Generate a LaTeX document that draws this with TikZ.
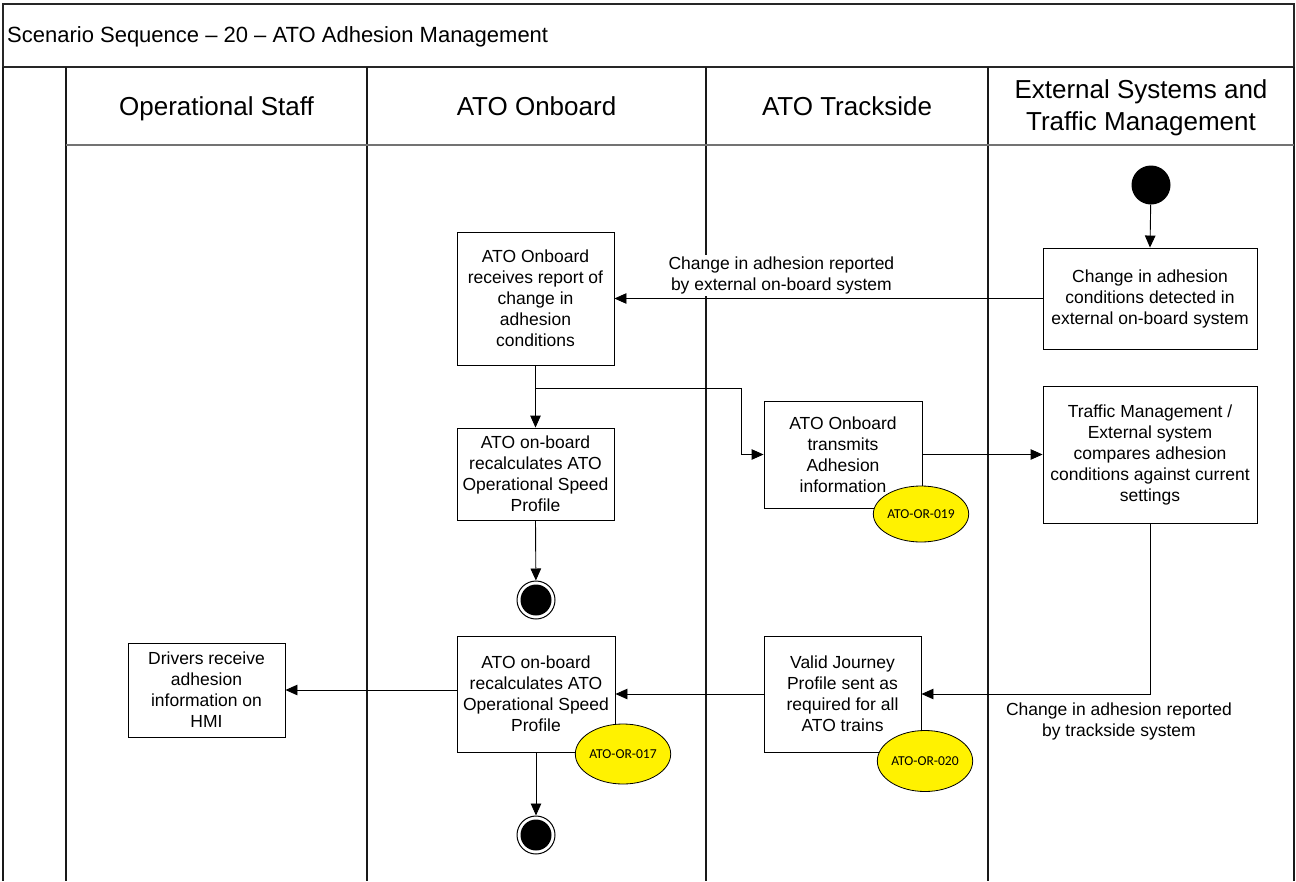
\documentclass[tikz,border=0pt]{standalone}
\usepackage{fontspec}
\setmainfont{Liberation Sans}
\newfontfamily\reqfont{Carlito}
\usetikzlibrary{arrows.meta,shapes.geometric}
\begin{document}
\begin{tikzpicture}[x=1pt,y=-1pt,
  lane/.style={line width=1.9pt, black!90},
  frame/.style={line width=1.3pt, black!85},
  headline/.style={line width=1.1pt, black!55},
  stepbox/.style={draw, line width=0.9pt, fill=white, align=center, inner sep=2pt,
    font=\fontsize{17.5}{21}\selectfont},
  flow/.style={line width=0.9pt, -{Triangle[length=12pt,width=10.5pt]}},
  req/.style={ellipse, draw, line width=0.8pt, fill=yellow, inner sep=0pt,
    font=\reqfont\fontsize{13.6}{15}\selectfont},
  lbl/.style={align=center, fill=white, inner sep=2pt, font=\fontsize{17.5}{21}\selectfont},
  head/.style={align=center, inner sep=0pt, font=\fontsize{26}{32}\selectfont},
  startdot/.style={circle, fill=black, minimum size=39pt, inner sep=0pt},
  enddot/.style={circle, draw, line width=1pt, fill=white, minimum size=38pt, inner sep=0pt,
    path picture={\fill[black] (path picture bounding box.center) circle (15.5pt);}},
]
\useasboundingbox (0,0) rectangle (1296,881);

% title bar and swimlane frame
\draw[frame] (3,4) rectangle (1294,67);
\node[anchor=base west, inner sep=0pt, font=\fontsize{22}{26}\selectfont] (title) at (7,42)
  {Scenario Sequence – 20 – ATO Adhesion Management};
\draw[lane] (3,67) -- (3,881);
\draw[lane] (66,67) -- (66,881);
\draw[lane] (367,67) -- (367,881);
\draw[lane] (706,67) -- (706,881);
\draw[lane] (988,67) -- (988,881);
\draw[lane] (1294,67) -- (1294,881);
\draw[headline] (66,145) -- (1294,145);

% lane headings
\node[head, anchor=base] (hstaff) at (216.5,115) {Operational Staff};
\node[head, anchor=base] (honboard) at (536.5,115) {ATO Onboard};
\node[head, anchor=base] (htrack) at (847,115) {ATO Trackside};
\node[head] (hext) at (1141,107.3) {External Systems and\\Traffic Management};

% activities
\node[startdot] (start) at (1151,185) {};
\node[stepbox, minimum width=214pt, minimum height=101pt] (detect) at (1150,298.5)
  {Change in adhesion\\conditions detected in\\external on-board system};
\node[stepbox, minimum width=214pt, minimum height=137pt] (compare) at (1150,454.5)
  {Traffic Management /\\External system\\compares adhesion\\conditions against current\\settings};
\node[stepbox, minimum width=157pt, minimum height=133pt] (receive) at (535.5,298.5)
  {ATO Onboard\\receives report of\\change in\\adhesion\\conditions};
\node[stepbox, minimum width=157pt, minimum height=92pt] (recalcA) at (535.5,474)
  {ATO on-board\\recalculates ATO\\Operational Speed\\Profile};
\node[stepbox, minimum width=158pt, minimum height=107pt] (transmit) at (843,454.5)
  {ATO Onboard\\transmits\\Adhesion\\information};
\node[stepbox, minimum width=158pt, minimum height=116pt] (recalcB) at (536,694)
  {ATO on-board\\recalculates ATO\\Operational Speed\\Profile};
\node[stepbox, minimum width=157pt, minimum height=116pt] (valid) at (842.5,694)
  {Valid Journey\\Profile sent as\\required for all\\ATO trains};
\node[stepbox, minimum width=157pt, minimum height=94pt] (drivers) at (206.5,690)
  {Drivers receive\\adhesion\\information on\\HMI};
\node[enddot] (endA) at (536,600) {};
\node[enddot] (endB) at (536,835) {};

% requirement tags
\node[req, minimum width=87pt, minimum height=56pt] (r019) at (921,514) {ATO-OR-019};
\node[req, minimum width=88pt, minimum height=60pt] (r017) at (623,754) {ATO-OR-017};
\node[req, minimum width=86pt, minimum height=61pt] (r020) at (925,761) {ATO-OR-020};

% flows
\coordinate (jog) at (741,388);
\draw[flow] (start) -- (detect.north);
\draw[flow] (detect.west) -- node[lbl, pos=0.61, above=2pt]
  {Change in adhesion reported\\by external on-board system} (receive.east);
\draw[flow] (receive.south) -- (recalcA.north);
\draw[flow] (receive.south) |- (jog) |- (transmit.west);
\draw[flow] (recalcA.south) -- (endA);
\draw[flow] (transmit.east) -- (compare.west);
\draw[flow] (compare.south) |- node[lbl, pos=0.568, below=6pt]
  {Change in adhesion reported\\by trackside system} (valid.east);
\draw[flow] (valid.west) -- (recalcB.east);
\draw[flow] (recalcB.west |- drivers.east) -- (drivers.east);
\draw[flow] (recalcB.south) -- (endB);
\end{tikzpicture}
\end{document}
